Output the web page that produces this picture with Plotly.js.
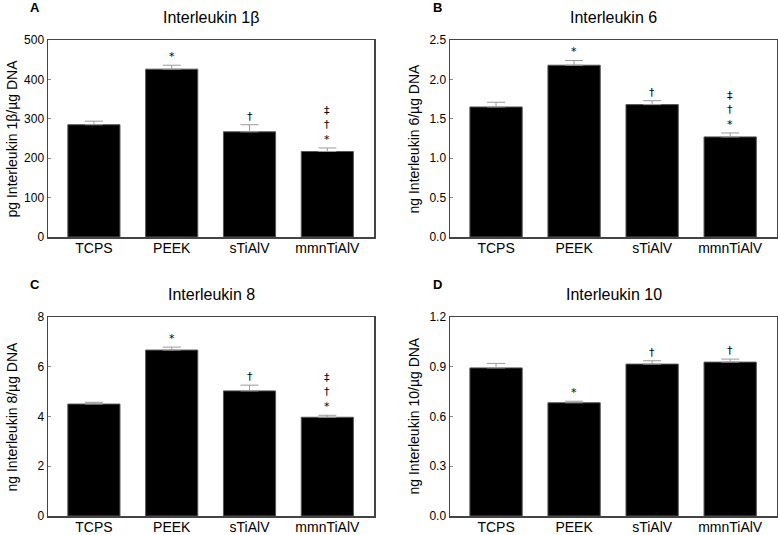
<!DOCTYPE html>
<html>
<head>
<meta charset="utf-8">
<script src="https://cdn.plot.ly/plotly-3.0.1.min.js"></script>
<style>html,body{margin:0;padding:0;background:#fff;}#chart{width:778px;height:535px;}</style>
</head>
<body>
<div id="chart"></div>
<script>
// ---- data ----
const categories = ['TCPS', 'PEEK', 'sTiAlV', 'mmnTiAlV'];

const il1bValues = [285, 426, 267, 217];
const il1bErrors = [9, 10, 18, 9];
const il1bMarks = ['', '*', '†', '‡<br>†<br>*'];

const il6Values = [1.65, 2.18, 1.68, 1.27];
const il6Errors = [0.06, 0.06, 0.05, 0.05];
const il6Marks = ['', '*', '†', '‡<br>†<br>*'];

const il8Values = [4.50, 6.67, 5.03, 3.97];
const il8Errors = [0.07, 0.12, 0.23, 0.08];
const il8Marks = ['', '*', '†', '‡<br>†<br>*'];

const il10Values = [0.893, 0.683, 0.916, 0.928];
const il10Errors = [0.027, 0.009, 0.020, 0.018];
const il10Marks = ['', '*', '†', '†'];

const panelTitles = ['Interleukin 1β', 'Interleukin 6', 'Interleukin 8', 'Interleukin 10'];
const panelLetters = ['A', 'B', 'C', 'D'];
const yTitles = ['pg Interleukin 1β/µg DNA', 'ng Interleukin 6/µg DNA', 'ng Interleukin 8/µg DNA', 'ng Interleukin 10/µg DNA'];
const yTickVals = [[0, 100, 200, 300, 400, 500], [0, 0.5, 1.0, 1.5, 2.0, 2.5], [0, 2, 4, 6, 8], [0, 0.3, 0.6, 0.9, 1.2]];
const yTickText = [['0', '100', '200', '300', '400', '500'], ['0.0', '0.5', '1.0', '1.5', '2.0', '2.5'], ['0', '2', '4', '6', '8'], ['0.0', '0.3', '0.6', '0.9', '1.2']];

// ---- layout helpers ----
const W = 778, H = 535;
const FONT = 'Liberation Sans, Arial, sans-serif';
const panels = [
  {vals: il1bValues, errs: il1bErrors, marks: il1bMarks, x0: 48, x1: 374, y0: 40, y1: 237},
  {vals: il6Values, errs: il6Errors, marks: il6Marks, x0: 450, x1: 777, y0: 40, y1: 237},
  {vals: il8Values, errs: il8Errors, marks: il8Marks, x0: 48, x1: 374, y0: 317, y1: 516},
  {vals: il10Values, errs: il10Errors, marks: il10Marks, x0: 450, x1: 777, y0: 317, y1: 516}
];

const traces = [];
const layout = {
  width: W, height: H,
  margin: {l: 0, r: 0, t: 0, b: 0},
  paper_bgcolor: '#fff', plot_bgcolor: '#fff',
  showlegend: false,
  font: {family: FONT, color: '#000'},
  annotations: []
};

panels.forEach((p, i) => {
  const n = i + 1;
  const xa = 'x' + (n === 1 ? '' : n), ya = 'y' + (n === 1 ? '' : n);
  const xk = 'xaxis' + (n === 1 ? '' : n), yk = 'yaxis' + (n === 1 ? '' : n);
  const ymax = yTickVals[i][yTickVals[i].length - 1];
  traces.push({
    type: 'bar', x: categories, y: p.vals, xaxis: xa, yaxis: ya,
    width: 0.67,
    marker: {color: '#000', line: {color: '#555', width: 1}},
    error_y: {type: 'data', array: p.errs, arrayminus: p.errs.map(() => 0), symmetric: false,
              color: '#9a9a9a', thickness: 1, width: 9},
    hoverinfo: 'x+y'
  });
  layout[xk] = {
    domain: [p.x0 / W, p.x1 / W], anchor: ya,
    range: [-0.59, 3.6], type: 'category',
    showline: true, linecolor: '#444', linewidth: 1.5, mirror: true,
    ticks: '', showgrid: false, zeroline: false,
    ticklabelstandoff: -2,
    tickfont: {family: FONT, size: 14, color: '#000'}
  };
  layout[yk] = {
    domain: [1 - p.y1 / H, 1 - p.y0 / H], anchor: xa,
    range: [0, ymax],
    tickvals: yTickVals[i], ticktext: yTickText[i],
    showline: true, linecolor: '#444', linewidth: 1.5, mirror: true,
    ticks: 'inside', ticklen: 3, tickcolor: '#888',
    showgrid: false, zeroline: false,
    tickfont: {family: FONT, size: 12, color: '#000'}
  };
  // significance marks above error bars
  p.marks.forEach((m, j) => {
    if (!m) return;
    layout.annotations.push({
      xref: xa, yref: ya, x: categories[j], y: p.vals[j] + p.errs[j],
      text: m, showarrow: false, yanchor: 'bottom', yshift: 0,
      font: {family: 'DejaVu Sans, sans-serif', size: 11, color: '#000'}
    });
  });
  // panel title
  layout.annotations.push({
    xref: 'paper', yref: 'paper', x: ((p.x0 + p.x1) / 2) / W, y: 1 - (p.y0 - 23) / H,
    text: panelTitles[i], showarrow: false, xanchor: 'center', yanchor: 'middle',
    font: {family: FONT, size: 16, color: '#000'}
  });
  // panel letter
  layout.annotations.push({
    xref: 'paper', yref: 'paper', x: (p.x0 - 13) / W, y: 1 - (p.y0 - 33) / H,
    text: '<b>' + panelLetters[i] + '</b>', showarrow: false, xanchor: 'center', yanchor: 'middle',
    font: {family: FONT, size: 13, color: '#000'}
  });
  // y-axis title
  layout.annotations.push({
    xref: 'paper', yref: 'paper', x: (p.x0 - 37) / W, y: 1 - ((p.y0 + p.y1) / 2) / H,
    text: yTitles[i], showarrow: false, textangle: -90, xanchor: 'center', yanchor: 'middle',
    font: {family: FONT, size: 14, color: '#000'}
  });
});

Plotly.newPlot('chart', traces, layout, {displayModeBar: false, staticPlot: true});
</script>
</body>
</html>
